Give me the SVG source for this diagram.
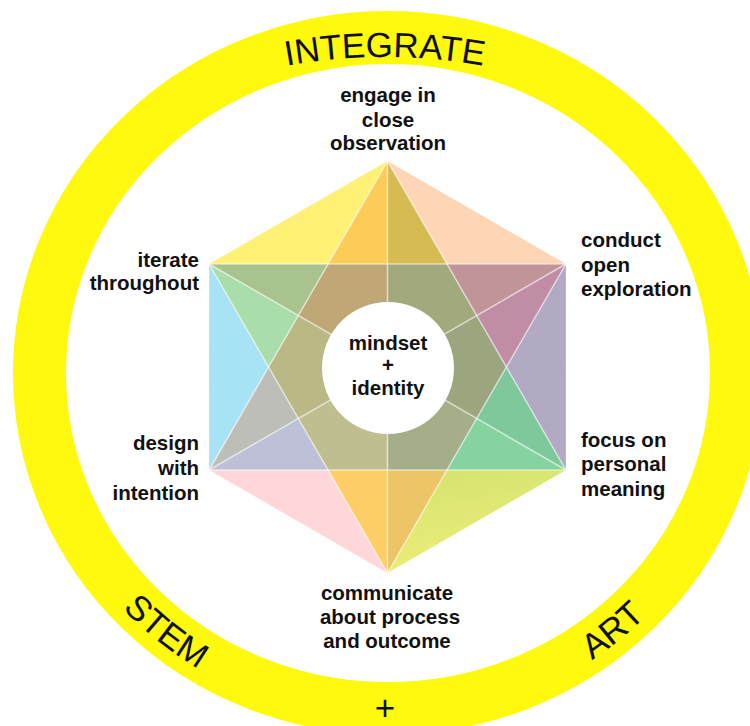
<svg xmlns="http://www.w3.org/2000/svg" width="750" height="726" viewBox="0 0 750 726">
  <defs>
    <style>
      .lbl { font-family: "Liberation Sans", Arial, sans-serif; font-weight: bold; font-size: 20.5px; fill: #111; }
      .ring { font-family: "Liberation Sans", Arial, sans-serif; font-size: 35px; fill: #111; }
      .ln { stroke: #ffffff; stroke-opacity: 0.55; stroke-width: 1.5; fill: none; }
    </style>
    <path id="arcTop" d="M85,145.1 A555,555 0 0 1 685,145.1"/>
    <path id="arcBottom" d="M27,373 A361,348 0 0 0 749,373"/>
    <linearGradient id="gBR" x1="0" y1="0" x2="0.3" y2="1">
      <stop offset="0" stop-color="#D3E36E"/>
      <stop offset="1" stop-color="#ECEE79"/>
    </linearGradient>
  </defs>
  <rect width="750" height="726" fill="#ffffff"/>

  <g id="ring">
    <ellipse cx="388" cy="373" rx="348.5" ry="335.5" fill="none" stroke="#FFF90E" stroke-width="53"/>
    <text class="ring"><textPath href="#arcTop" startOffset="50%" text-anchor="middle">INTEGRATE</textPath></text>
    <text class="ring"><textPath href="#arcBottom" startOffset="309" text-anchor="middle">STEM</textPath></text>
    <text class="ring"><textPath href="#arcBottom" startOffset="807" text-anchor="middle">ART</textPath></text>
    <text class="ring" x="385" y="720" text-anchor="middle" font-size="28">+</text>
  </g>

  <g id="hexagon">
    <polygon points="387.5,161 209.1,264 328,264" fill="#FFF176"/>
    <polygon points="387.5,161 447,264 565.9,264" fill="#FED5B5"/>
    <polygon points="565.9,264 565.9,470 506.4,367" fill="#B2A9C3"/>
    <polygon points="565.9,470 387.5,573 447,470" fill="url(#gBR)"/>
    <polygon points="387.5,573 209.1,470 328,470" fill="#FFD7DB"/>
    <polygon points="209.1,470 209.1,264 268.6,367" fill="#A8E3F5"/>
    <polygon points="387.5,161 328,264 387.5,264" fill="#FDCC58"/>
    <polygon points="387.5,161 387.5,264 447,264" fill="#D6BB53"/>
    <polygon points="565.9,264 447,264 476.7,315.5" fill="#C19597"/>
    <polygon points="565.9,264 476.7,315.5 506.4,367" fill="#C08DA5"/>
    <polygon points="565.9,470 506.4,367 476.7,418.5" fill="#7FC89B"/>
    <polygon points="565.9,470 476.7,418.5 447,470" fill="#85D3A0"/>
    <polygon points="387.5,573 447,470 387.5,470" fill="#EBC566"/>
    <polygon points="387.5,573 387.5,470 328,470" fill="#FDCD66"/>
    <polygon points="209.1,470 328,470 298.3,418.5" fill="#BDC0D6"/>
    <polygon points="209.1,470 298.3,418.5 268.6,367" fill="#BEBEB8"/>
    <polygon points="209.1,264 268.6,367 298.3,315.5" fill="#A9DDA9"/>
    <polygon points="209.1,264 298.3,315.5 328,264" fill="#A9C38F"/>
    <polygon points="298.3,315.5 328,264 387.5,264 387.5,367" fill="#BFA876"/>
    <polygon points="387.5,264 447,264 476.7,315.5 387.5,367" fill="#A1A97D"/>
    <polygon points="476.7,315.5 506.4,367 476.7,418.5 387.5,367" fill="#9BA67F"/>
    <polygon points="476.7,418.5 447,470 387.5,470 387.5,367" fill="#A4AF89"/>
    <polygon points="387.5,470 328,470 298.3,418.5 387.5,367" fill="#BEBE8F"/>
    <polygon points="298.3,418.5 268.6,367 298.3,315.5 387.5,367" fill="#BAB986"/>
  </g>

  <g id="connectors">
    <polygon class="ln" points="387.5,161 565.9,470 209.1,470"/>
    <polygon class="ln" points="387.5,573 209.1,264 565.9,264"/>
    <line class="ln" x1="387.5" y1="161" x2="387.5" y2="573"/>
    <line class="ln" x1="209.1" y1="264" x2="565.9" y2="470"/>
    <line class="ln" x1="565.9" y1="264" x2="209.1" y2="470"/>
  </g>

  <g id="center">
    <circle cx="388" cy="368" r="66" fill="#ffffff"/>
    <text class="lbl" font-size="22" text-anchor="middle" x="388" y="350">mindset</text>
    <text class="lbl" font-size="17" text-anchor="middle" x="388" y="372">+</text>
    <text class="lbl" font-size="22" text-anchor="middle" x="388" y="395">identity</text>
  </g>

  <g id="observation">
    <text class="lbl" text-anchor="middle"><tspan x="388" y="102">engage in</tspan><tspan x="388" y="127">close</tspan><tspan x="388" y="150">observation</tspan></text>
  </g>
  <g id="exploration">
    <text class="lbl"><tspan x="581" y="247">conduct</tspan><tspan x="581" y="272">open</tspan><tspan x="581" y="296">exploration</tspan></text>
  </g>
  <g id="meaning">
    <text class="lbl"><tspan x="581" y="447">focus on</tspan><tspan x="581" y="471">personal</tspan><tspan x="581" y="496">meaning</tspan></text>
  </g>
  <g id="communicate">
    <text class="lbl" text-anchor="middle"><tspan x="387" y="600">communicate</tspan><tspan x="390" y="624">about process</tspan><tspan x="387" y="648">and outcome</tspan></text>
  </g>
  <g id="intention">
    <text class="lbl" text-anchor="end"><tspan x="199" y="450">design</tspan><tspan x="199" y="475">with</tspan><tspan x="199" y="500">intention</tspan></text>
  </g>
  <g id="iterate">
    <text class="lbl" text-anchor="end"><tspan x="199" y="267">iterate</tspan><tspan x="199" y="290">throughout</tspan></text>
  </g>
</svg>
